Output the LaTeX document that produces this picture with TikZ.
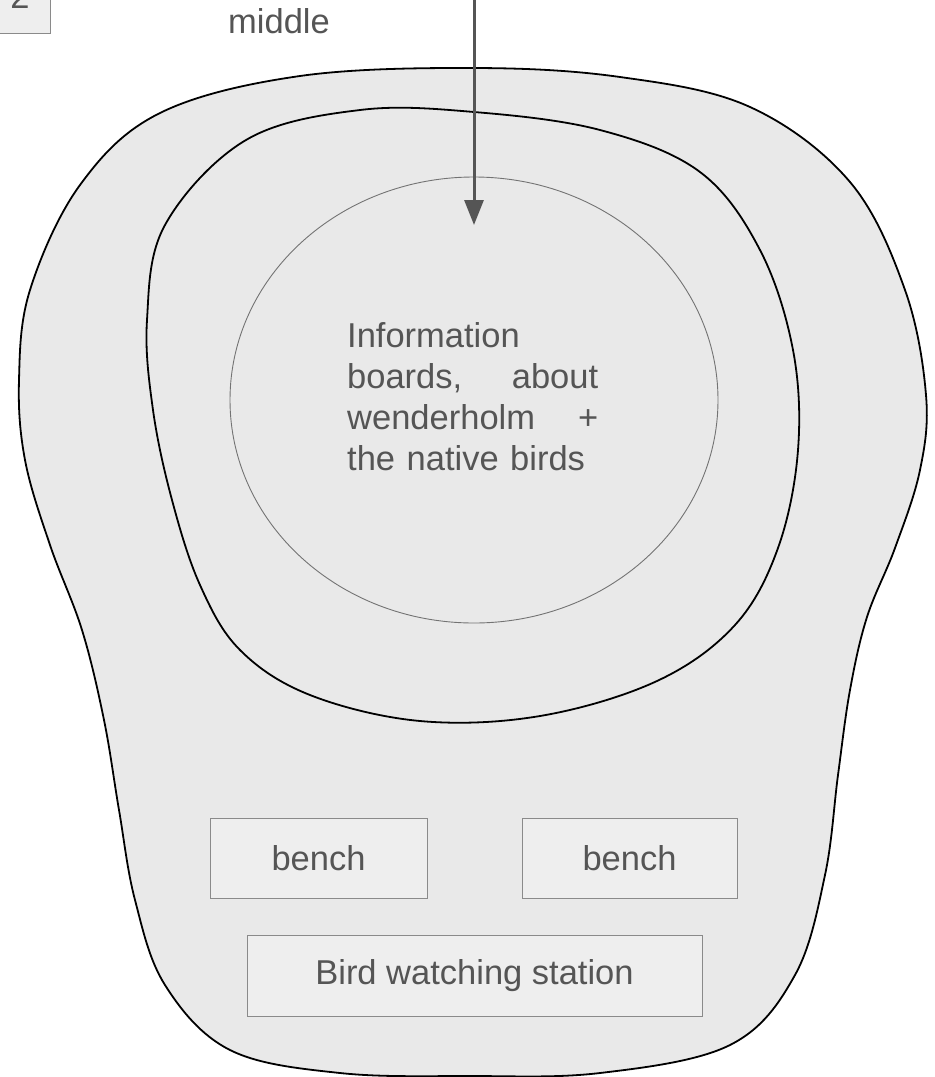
\documentclass[tikz,border=0pt]{standalone}
\usepackage{fontspec}
\setmainfont{Liberation Sans}
\usetikzlibrary{arrows.meta}
\definecolor{areafill}{HTML}{E9E9E9}
\definecolor{boxfill}{HTML}{EEEEEE}
\definecolor{boxline}{HTML}{8A8A8A}
\definecolor{txt}{HTML}{555555}
\tikzset{
  arealine/.style={draw=black, line width=1.8pt, fill=areafill},
  innerline/.style={draw=black!55, line width=0.9pt, fill=areafill},
  itembox/.style={draw=boxline, line width=1pt, fill=boxfill, inner sep=0pt, text=txt,
    font=\fontsize{34.5}{41.3}\selectfont},
  label/.style={text=txt, inner sep=0pt, font=\fontsize{34.5}{41.3}\selectfont},
  pointer/.style={draw=txt, line width=3pt, -{Triangle[length=25pt,width=19pt]}}
}
\begin{document}
\begin{tikzpicture}[x=1pt,y=-1pt]
\useasboundingbox (0,0) rectangle (935,1077);
\fill[white] (0,0) rectangle (935,1077);
% outer area
\path[arealine] plot[smooth cycle, tension=0.6] coordinates {
 (474,68) (620,77) (750,107) (850,182) (905,290) (926,395) (920,470) (895,548)
 (867,617) (850,690) (838,775) (825,875) (795,975) (730,1045) (600,1073) (470,1076)
 (340,1073) (230,1050) (165,985) (135,900) (119,810) (104,720) (82,630) (50,545)
 (25,460) (19,380) (30,290) (80,185) (160,113) (300,76)};
% middle ring
\path[arealine] plot[smooth cycle, tension=0.6] coordinates {
 (474,112) (600,130) (700,172) (760,250) (793,350) (798,450) (778,548) (735,625)
 (657,681) (540,716) (420,721) (310,695) (240,650) (200,585) (172,500) (153,410)
 (147,320) (165,225) (246,140) (360,110)};
% inner ellipse
\path[innerline] (474,400) ellipse [x radius=244, y radius=223];
\coordinate (core) at (474,400);
% information text
\node[label, anchor=base west, text width=251pt, align=left] (info) at (347,347)
 {Information\\ boards,\hfill about\\ wenderholm\hfill +\\ the native birds};
% arrow from the top
\coordinate (arrstart) at (474,-10);
\coordinate (arrtip) at (474,225);
\draw[pointer] (arrstart) -- (arrtip);
\node[label, anchor=base] (middle) at (279,33) {middle};
% number box
\node[itembox, minimum width=60pt, minimum height=73pt] (num) at (20,-3.5) {2};
% benches and station
\node[itembox, minimum width=217pt, minimum height=80pt] (bench1) at (318.5,858) {bench};
\node[itembox, minimum width=215pt, minimum height=80pt] (bench2) at (629.5,858) {bench};
\node[itembox, minimum width=455pt, minimum height=81pt] (station) at (474.5,975.5) {Bird watching station};
\end{tikzpicture}
\end{document}
